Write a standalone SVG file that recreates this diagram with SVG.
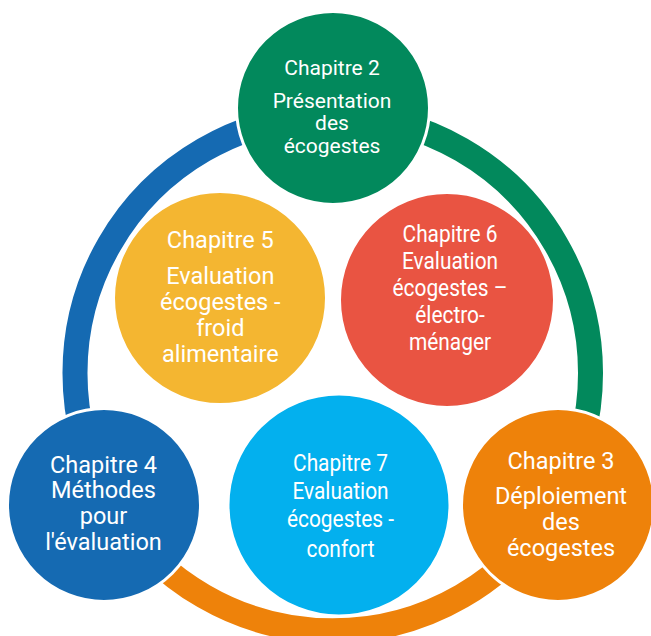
<svg xmlns="http://www.w3.org/2000/svg" width="651" height="636" viewBox="0 0 651 636">
<style>
.ring{fill:none;stroke-width:25;stroke-linecap:butt}
.node{stroke:#ffffff;stroke-width:3}
.t{font-family:Roboto,"Liberation Sans",sans-serif;fill:#ffffff;text-anchor:middle}
.s21{font-size:21px}
.s23{font-size:23.5px}
.s24{font-size:24px}
</style>
<rect width="651" height="636" fill="#ffffff"/>
<g id="connectors">
<path class="ring" stroke="#02895C" d="M332.75,115.25 A257.75,257.75 0 0 1 555.97,501.9"/>
<path class="ring" stroke="#EE820A" d="M555.97,501.9 A257.75,257.75 0 0 1 109.53,501.9"/>
<path class="ring" stroke="#156AB2" d="M109.53,501.9 A257.75,257.75 0 0 1 332.75,115.25"/>
</g>
<g id="chapitre2">
<circle class="node" cx="333" cy="108" r="96.5" fill="#02895C"/>
<text class="t s21"><tspan x="332" y="75">Chapitre 2</tspan><tspan x="332" y="107.5">Présentation</tspan><tspan x="332" y="130">des</tspan><tspan x="332" y="152.5">écogestes</tspan></text>
</g>
<g id="chapitre3">
<circle class="node" cx="558" cy="505" r="96.5" fill="#EE820A"/>
<text class="t s23"><tspan x="561" y="468.5">Chapitre 3</tspan><tspan x="561" y="504.3">Déploiement</tspan><tspan x="561" y="530">des</tspan><tspan x="561" y="555.8">écogestes</tspan></text>
</g>
<g id="chapitre4">
<circle class="node" cx="104" cy="505" r="96.5" fill="#156AB2"/>
<text class="t s23"><tspan x="103.5" y="472.6">Chapitre 4</tspan><tspan x="103.5" y="498.2">Méthodes</tspan><tspan x="103.5" y="524">pour</tspan><tspan x="103.5" y="549.7">l'évaluation</tspan></text>
</g>
<g id="chapitre5">
<circle class="node" cx="220" cy="298" r="106.5" fill="#F4B631"/>
<text class="t s23"><tspan x="220.3" y="248">Chapitre 5</tspan><tspan x="220.3" y="284">Evaluation</tspan><tspan x="220.3" y="310">écogestes -</tspan><tspan x="220.3" y="336">froid</tspan><tspan x="220.3" y="362">alimentaire</tspan></text>
</g>
<g id="chapitre6">
<circle class="node" cx="447" cy="300" r="107.5" fill="#E95442"/>
<g transform="translate(450,0) scale(0.87,1)">
<text class="t s24"><tspan x="0" y="242.5">Chapitre 6</tspan><tspan x="0" y="269.5">Evaluation</tspan><tspan x="0" y="296.5">écogestes –</tspan><tspan x="0" y="323.5">électro-</tspan><tspan x="0" y="350.5">ménager</tspan></text>
</g>
</g>
<g id="chapitre7">
<circle class="node" cx="339" cy="505" r="111" fill="#03B0EE"/>
<g transform="translate(340.5,0) scale(0.87,1)">
<text class="t s24"><tspan x="0" y="470.6">Chapitre 7</tspan><tspan x="0" y="499">Evaluation</tspan><tspan x="0" y="527.4">écogestes -</tspan><tspan x="0" y="556.6">confort</tspan></text>
</g>
</g>
</svg>
